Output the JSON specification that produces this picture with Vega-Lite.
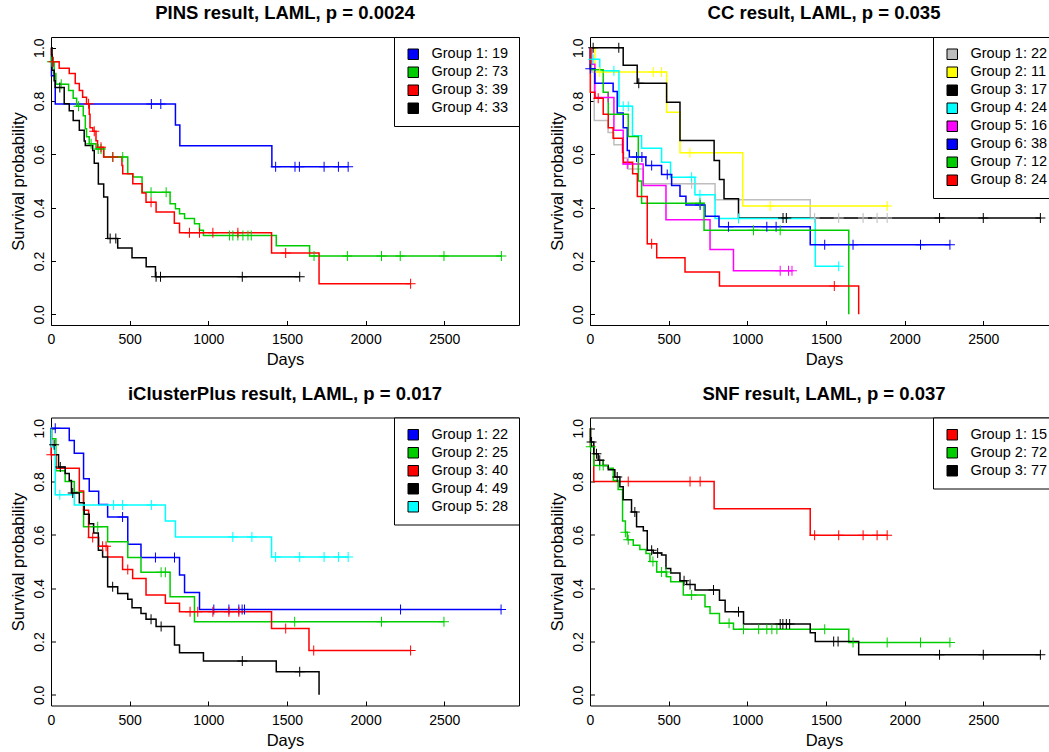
{
  "$schema": "https://vega.github.io/schema/vega-lite/v6.json",
  "padding": {"left": 9, "top": 3, "right": 0, "bottom": 0},
  "background": "white",
  "config": {
    "font": "Liberation Sans",
    "view": {"stroke": "black", "strokeWidth": 1},
    "axis": {"domain": false, "grid": false, "tickColor": "black", "tickWidth": 1, "tickSize": -4.5, "labelFont": "Liberation Sans", "labelFontSize": 14, "labelColor": "black", "titleFont": "Liberation Sans", "titleFontSize": 16.5, "titleFontWeight": "normal", "titleColor": "black", "labelFlush": false, "labelOverlap": false},
    "axisX": {"labelPadding": 12.2, "titlePadding": 5},
    "axisY": {"labelPadding": 12.5, "labelAngle": -90, "labelAlign": "center", "labelBaseline": "alphabetic", "titlePadding": 6},
    "title": {"font": "Liberation Sans", "fontSize": 18.5, "fontWeight": "bold", "color": "black", "anchor": "middle", "offset": 14},
    "legend": {"orient": "top-right", "offset": 0, "padding": 10, "symbolOffset": 2, "strokeColor": "black", "strokeWidth": 1, "fillColor": "white", "cornerRadius": 0, "symbolType": "square", "symbolSize": 110, "symbolStrokeColor": "black", "symbolStrokeWidth": 1, "labelFont": "Liberation Sans", "labelFontSize": 14.5, "labelColor": "black", "labelOffset": 11, "rowPadding": 2}
  },
  "data": {"values": [
    {"p":"A","g":"Group 1: 19","t":0,"s":1,"c":0},{"p":"A","g":"Group 1: 19","t":3,"s":0.895,"c":0},{"p":"A","g":"Group 1: 19","t":27,"s":0.789,"c":0},{"p":"A","g":"Group 1: 19","t":638,"s":0.789,"c":1},{"p":"A","g":"Group 1: 19","t":698,"s":0.789,"c":1},{"p":"A","g":"Group 1: 19","t":791,"s":0.71,"c":0},{"p":"A","g":"Group 1: 19","t":819,"s":0.632,"c":0},{"p":"A","g":"Group 1: 19","t":1404,"s":0.553,"c":0},{"p":"A","g":"Group 1: 19","t":1428,"s":0.553,"c":1},{"p":"A","g":"Group 1: 19","t":1551,"s":0.553,"c":1},{"p":"A","g":"Group 1: 19","t":1579,"s":0.553,"c":1},{"p":"A","g":"Group 1: 19","t":1736,"s":0.553,"c":1},{"p":"A","g":"Group 1: 19","t":1827,"s":0.553,"c":1},{"p":"A","g":"Group 1: 19","t":1889,"s":0.553,"c":1},
    {"p":"A","g":"Group 2: 73","t":0,"s":1,"c":0},{"p":"A","g":"Group 2: 73","t":3,"s":0.947,"c":0},{"p":"A","g":"Group 2: 73","t":5,"s":0.947,"c":1},{"p":"A","g":"Group 2: 73","t":20,"s":0.903,"c":0},{"p":"A","g":"Group 2: 73","t":31,"s":0.863,"c":0},{"p":"A","g":"Group 2: 73","t":65,"s":0.863,"c":1},{"p":"A","g":"Group 2: 73","t":112,"s":0.839,"c":0},{"p":"A","g":"Group 2: 73","t":141,"s":0.81,"c":0},{"p":"A","g":"Group 2: 73","t":163,"s":0.78,"c":0},{"p":"A","g":"Group 2: 73","t":175,"s":0.78,"c":1},{"p":"A","g":"Group 2: 73","t":205,"s":0.745,"c":0},{"p":"A","g":"Group 2: 73","t":218,"s":0.696,"c":0},{"p":"A","g":"Group 2: 73","t":226,"s":0.666,"c":0},{"p":"A","g":"Group 2: 73","t":243,"s":0.64,"c":0},{"p":"A","g":"Group 2: 73","t":255,"s":0.64,"c":1},{"p":"A","g":"Group 2: 73","t":286,"s":0.62,"c":0},{"p":"A","g":"Group 2: 73","t":300,"s":0.62,"c":1},{"p":"A","g":"Group 2: 73","t":318,"s":0.62,"c":1},{"p":"A","g":"Group 2: 73","t":335,"s":0.59,"c":0},{"p":"A","g":"Group 2: 73","t":393,"s":0.59,"c":1},{"p":"A","g":"Group 2: 73","t":456,"s":0.59,"c":1},{"p":"A","g":"Group 2: 73","t":488,"s":0.527,"c":0},{"p":"A","g":"Group 2: 73","t":520,"s":0.515,"c":0},{"p":"A","g":"Group 2: 73","t":579,"s":0.458,"c":0},{"p":"A","g":"Group 2: 73","t":636,"s":0.458,"c":1},{"p":"A","g":"Group 2: 73","t":732,"s":0.458,"c":1},{"p":"A","g":"Group 2: 73","t":757,"s":0.415,"c":0},{"p":"A","g":"Group 2: 73","t":791,"s":0.396,"c":0},{"p":"A","g":"Group 2: 73","t":817,"s":0.377,"c":0},{"p":"A","g":"Group 2: 73","t":849,"s":0.359,"c":0},{"p":"A","g":"Group 2: 73","t":912,"s":0.34,"c":0},{"p":"A","g":"Group 2: 73","t":944,"s":0.315,"c":0},{"p":"A","g":"Group 2: 73","t":969,"s":0.296,"c":0},{"p":"A","g":"Group 2: 73","t":1135,"s":0.296,"c":1},{"p":"A","g":"Group 2: 73","t":1156,"s":0.296,"c":1},{"p":"A","g":"Group 2: 73","t":1188,"s":0.296,"c":1},{"p":"A","g":"Group 2: 73","t":1220,"s":0.296,"c":1},{"p":"A","g":"Group 2: 73","t":1252,"s":0.296,"c":1},{"p":"A","g":"Group 2: 73","t":1273,"s":0.296,"c":1},{"p":"A","g":"Group 2: 73","t":1432,"s":0.257,"c":0},{"p":"A","g":"Group 2: 73","t":1644,"s":0.219,"c":0},{"p":"A","g":"Group 2: 73","t":1672,"s":0.219,"c":1},{"p":"A","g":"Group 2: 73","t":1884,"s":0.219,"c":1},{"p":"A","g":"Group 2: 73","t":2101,"s":0.219,"c":1},{"p":"A","g":"Group 2: 73","t":2220,"s":0.219,"c":1},{"p":"A","g":"Group 2: 73","t":2498,"s":0.219,"c":1},{"p":"A","g":"Group 2: 73","t":2863,"s":0.219,"c":1},
    {"p":"A","g":"Group 3: 39","t":0,"s":1,"c":0},{"p":"A","g":"Group 3: 39","t":3,"s":0.974,"c":0},{"p":"A","g":"Group 3: 39","t":8,"s":0.947,"c":0},{"p":"A","g":"Group 3: 39","t":15,"s":0.947,"c":1},{"p":"A","g":"Group 3: 39","t":52,"s":0.923,"c":0},{"p":"A","g":"Group 3: 39","t":116,"s":0.903,"c":0},{"p":"A","g":"Group 3: 39","t":154,"s":0.866,"c":0},{"p":"A","g":"Group 3: 39","t":180,"s":0.839,"c":0},{"p":"A","g":"Group 3: 39","t":201,"s":0.814,"c":0},{"p":"A","g":"Group 3: 39","t":226,"s":0.79,"c":0},{"p":"A","g":"Group 3: 39","t":239,"s":0.79,"c":1},{"p":"A","g":"Group 3: 39","t":243,"s":0.75,"c":0},{"p":"A","g":"Group 3: 39","t":248,"s":0.7,"c":0},{"p":"A","g":"Group 3: 39","t":266,"s":0.687,"c":0},{"p":"A","g":"Group 3: 39","t":275,"s":0.687,"c":1},{"p":"A","g":"Group 3: 39","t":286,"s":0.651,"c":0},{"p":"A","g":"Group 3: 39","t":296,"s":0.627,"c":0},{"p":"A","g":"Group 3: 39","t":318,"s":0.627,"c":1},{"p":"A","g":"Group 3: 39","t":335,"s":0.59,"c":0},{"p":"A","g":"Group 3: 39","t":393,"s":0.59,"c":1},{"p":"A","g":"Group 3: 39","t":451,"s":0.558,"c":0},{"p":"A","g":"Group 3: 39","t":456,"s":0.527,"c":0},{"p":"A","g":"Group 3: 39","t":520,"s":0.49,"c":0},{"p":"A","g":"Group 3: 39","t":579,"s":0.455,"c":0},{"p":"A","g":"Group 3: 39","t":604,"s":0.42,"c":0},{"p":"A","g":"Group 3: 39","t":636,"s":0.42,"c":1},{"p":"A","g":"Group 3: 39","t":668,"s":0.384,"c":0},{"p":"A","g":"Group 3: 39","t":784,"s":0.342,"c":0},{"p":"A","g":"Group 3: 39","t":817,"s":0.306,"c":0},{"p":"A","g":"Group 3: 39","t":880,"s":0.306,"c":1},{"p":"A","g":"Group 3: 39","t":944,"s":0.306,"c":1},{"p":"A","g":"Group 3: 39","t":1029,"s":0.306,"c":1},{"p":"A","g":"Group 3: 39","t":1188,"s":0.306,"c":1},{"p":"A","g":"Group 3: 39","t":1402,"s":0.23,"c":0},{"p":"A","g":"Group 3: 39","t":1492,"s":0.23,"c":1},{"p":"A","g":"Group 3: 39","t":1704,"s":0.115,"c":0},{"p":"A","g":"Group 3: 39","t":2286,"s":0.115,"c":1},
    {"p":"A","g":"Group 4: 33","t":0,"s":1,"c":0},{"p":"A","g":"Group 4: 33","t":6,"s":0.915,"c":0},{"p":"A","g":"Group 4: 33","t":20,"s":0.876,"c":0},{"p":"A","g":"Group 4: 33","t":27,"s":0.851,"c":0},{"p":"A","g":"Group 4: 33","t":56,"s":0.851,"c":1},{"p":"A","g":"Group 4: 33","t":84,"s":0.79,"c":0},{"p":"A","g":"Group 4: 33","t":116,"s":0.763,"c":0},{"p":"A","g":"Group 4: 33","t":141,"s":0.727,"c":0},{"p":"A","g":"Group 4: 33","t":180,"s":0.69,"c":0},{"p":"A","g":"Group 4: 33","t":211,"s":0.65,"c":0},{"p":"A","g":"Group 4: 33","t":218,"s":0.633,"c":0},{"p":"A","g":"Group 4: 33","t":265,"s":0.614,"c":0},{"p":"A","g":"Group 4: 33","t":275,"s":0.567,"c":0},{"p":"A","g":"Group 4: 33","t":301,"s":0.489,"c":0},{"p":"A","g":"Group 4: 33","t":335,"s":0.44,"c":0},{"p":"A","g":"Group 4: 33","t":360,"s":0.284,"c":0},{"p":"A","g":"Group 4: 33","t":376,"s":0.284,"c":1},{"p":"A","g":"Group 4: 33","t":412,"s":0.284,"c":1},{"p":"A","g":"Group 4: 33","t":424,"s":0.249,"c":0},{"p":"A","g":"Group 4: 33","t":515,"s":0.212,"c":0},{"p":"A","g":"Group 4: 33","t":605,"s":0.178,"c":0},{"p":"A","g":"Group 4: 33","t":664,"s":0.141,"c":0},{"p":"A","g":"Group 4: 33","t":668,"s":0.141,"c":1},{"p":"A","g":"Group 4: 33","t":696,"s":0.141,"c":1},{"p":"A","g":"Group 4: 33","t":1216,"s":0.141,"c":1},{"p":"A","g":"Group 4: 33","t":1581,"s":0.141,"c":1},

    {"p":"B","g":"Group 1: 22","t":0,"s":1,"c":0},{"p":"B","g":"Group 1: 22","t":10,"s":0.909,"c":0},{"p":"B","g":"Group 1: 22","t":27,"s":0.727,"c":0},{"p":"B","g":"Group 1: 22","t":115,"s":0.682,"c":0},{"p":"B","g":"Group 1: 22","t":152,"s":0.636,"c":0},{"p":"B","g":"Group 1: 22","t":211,"s":0.586,"c":0},{"p":"B","g":"Group 1: 22","t":243,"s":0.545,"c":0},{"p":"B","g":"Group 1: 22","t":338,"s":0.49,"c":0},{"p":"B","g":"Group 1: 22","t":646,"s":0.49,"c":1},{"p":"B","g":"Group 1: 22","t":795,"s":0.43,"c":0},{"p":"B","g":"Group 1: 22","t":1400,"s":0.361,"c":0},{"p":"B","g":"Group 1: 22","t":1428,"s":0.361,"c":1},{"p":"B","g":"Group 1: 22","t":1581,"s":0.361,"c":1},{"p":"B","g":"Group 1: 22","t":1736,"s":0.361,"c":1},{"p":"B","g":"Group 1: 22","t":1825,"s":0.361,"c":1},{"p":"B","g":"Group 1: 22","t":1889,"s":0.361,"c":1},
    {"p":"B","g":"Group 2: 11","t":0,"s":1,"c":0},{"p":"B","g":"Group 2: 11","t":31,"s":0.909,"c":0},{"p":"B","g":"Group 2: 11","t":62,"s":0.909,"c":1},{"p":"B","g":"Group 2: 11","t":402,"s":0.909,"c":1},{"p":"B","g":"Group 2: 11","t":455,"s":0.909,"c":1},{"p":"B","g":"Group 2: 11","t":487,"s":0.758,"c":0},{"p":"B","g":"Group 2: 11","t":572,"s":0.606,"c":0},{"p":"B","g":"Group 2: 11","t":635,"s":0.606,"c":1},{"p":"B","g":"Group 2: 11","t":971,"s":0.406,"c":0},{"p":"B","g":"Group 2: 11","t":1145,"s":0.406,"c":1},{"p":"B","g":"Group 2: 11","t":1889,"s":0.406,"c":1},
    {"p":"B","g":"Group 3: 17","t":0,"s":1,"c":0},{"p":"B","g":"Group 3: 17","t":20,"s":1,"c":1},{"p":"B","g":"Group 3: 17","t":183,"s":1,"c":1},{"p":"B","g":"Group 3: 17","t":211,"s":0.934,"c":0},{"p":"B","g":"Group 3: 17","t":300,"s":0.867,"c":0},{"p":"B","g":"Group 3: 17","t":310,"s":0.867,"c":1},{"p":"B","g":"Group 3: 17","t":487,"s":0.795,"c":0},{"p":"B","g":"Group 3: 17","t":572,"s":0.652,"c":0},{"p":"B","g":"Group 3: 17","t":789,"s":0.577,"c":0},{"p":"B","g":"Group 3: 17","t":823,"s":0.506,"c":0},{"p":"B","g":"Group 3: 17","t":852,"s":0.433,"c":0},{"p":"B","g":"Group 3: 17","t":944,"s":0.361,"c":0},{"p":"B","g":"Group 3: 17","t":1227,"s":0.361,"c":1},{"p":"B","g":"Group 3: 17","t":1248,"s":0.361,"c":1},{"p":"B","g":"Group 3: 17","t":2222,"s":0.361,"c":1},{"p":"B","g":"Group 3: 17","t":2500,"s":0.361,"c":1},{"p":"B","g":"Group 3: 17","t":2863,"s":0.361,"c":1},
    {"p":"B","g":"Group 4: 24","t":0,"s":1,"c":0},{"p":"B","g":"Group 4: 24","t":5,"s":0.957,"c":0},{"p":"B","g":"Group 4: 24","t":20,"s":0.957,"c":1},{"p":"B","g":"Group 4: 24","t":62,"s":0.913,"c":0},{"p":"B","g":"Group 4: 24","t":152,"s":0.913,"c":1},{"p":"B","g":"Group 4: 24","t":184,"s":0.78,"c":0},{"p":"B","g":"Group 4: 24","t":211,"s":0.78,"c":1},{"p":"B","g":"Group 4: 24","t":243,"s":0.78,"c":1},{"p":"B","g":"Group 4: 24","t":270,"s":0.67,"c":0},{"p":"B","g":"Group 4: 24","t":328,"s":0.623,"c":0},{"p":"B","g":"Group 4: 24","t":455,"s":0.57,"c":0},{"p":"B","g":"Group 4: 24","t":512,"s":0.514,"c":0},{"p":"B","g":"Group 4: 24","t":646,"s":0.514,"c":1},{"p":"B","g":"Group 4: 24","t":667,"s":0.448,"c":0},{"p":"B","g":"Group 4: 24","t":699,"s":0.448,"c":1},{"p":"B","g":"Group 4: 24","t":795,"s":0.359,"c":0},{"p":"B","g":"Group 4: 24","t":944,"s":0.359,"c":1},{"p":"B","g":"Group 4: 24","t":1432,"s":0.18,"c":0},{"p":"B","g":"Group 4: 24","t":1581,"s":0.18,"c":1},
    {"p":"B","g":"Group 5: 16","t":0,"s":1,"c":0},{"p":"B","g":"Group 5: 16","t":10,"s":0.938,"c":0},{"p":"B","g":"Group 5: 16","t":31,"s":0.813,"c":0},{"p":"B","g":"Group 5: 16","t":115,"s":0.813,"c":1},{"p":"B","g":"Group 5: 16","t":152,"s":0.69,"c":0},{"p":"B","g":"Group 5: 16","t":211,"s":0.564,"c":0},{"p":"B","g":"Group 5: 16","t":237,"s":0.564,"c":1},{"p":"B","g":"Group 5: 16","t":338,"s":0.483,"c":0},{"p":"B","g":"Group 5: 16","t":483,"s":0.355,"c":0},{"p":"B","g":"Group 5: 16","t":763,"s":0.243,"c":0},{"p":"B","g":"Group 5: 16","t":912,"s":0.163,"c":0},{"p":"B","g":"Group 5: 16","t":1209,"s":0.163,"c":1},{"p":"B","g":"Group 5: 16","t":1262,"s":0.163,"c":1},{"p":"B","g":"Group 5: 16","t":1284,"s":0.163,"c":1},
    {"p":"B","g":"Group 6: 38","t":0,"s":1,"c":0},{"p":"B","g":"Group 6: 38","t":1,"s":0.921,"c":0},{"p":"B","g":"Group 6: 38","t":2,"s":0.921,"c":1},{"p":"B","g":"Group 6: 38","t":31,"s":0.867,"c":0},{"p":"B","g":"Group 6: 38","t":147,"s":0.836,"c":0},{"p":"B","g":"Group 6: 38","t":173,"s":0.755,"c":0},{"p":"B","g":"Group 6: 38","t":211,"s":0.7,"c":0},{"p":"B","g":"Group 6: 38","t":237,"s":0.614,"c":0},{"p":"B","g":"Group 6: 38","t":250,"s":0.59,"c":0},{"p":"B","g":"Group 6: 38","t":296,"s":0.59,"c":1},{"p":"B","g":"Group 6: 38","t":330,"s":0.59,"c":1},{"p":"B","g":"Group 6: 38","t":355,"s":0.558,"c":0},{"p":"B","g":"Group 6: 38","t":392,"s":0.558,"c":1},{"p":"B","g":"Group 6: 38","t":455,"s":0.524,"c":0},{"p":"B","g":"Group 6: 38","t":491,"s":0.524,"c":1},{"p":"B","g":"Group 6: 38","t":519,"s":0.483,"c":0},{"p":"B","g":"Group 6: 38","t":572,"s":0.443,"c":0},{"p":"B","g":"Group 6: 38","t":610,"s":0.41,"c":0},{"p":"B","g":"Group 6: 38","t":700,"s":0.41,"c":1},{"p":"B","g":"Group 6: 38","t":731,"s":0.368,"c":0},{"p":"B","g":"Group 6: 38","t":820,"s":0.328,"c":0},{"p":"B","g":"Group 6: 38","t":880,"s":0.328,"c":1},{"p":"B","g":"Group 6: 38","t":1124,"s":0.328,"c":1},{"p":"B","g":"Group 6: 38","t":1183,"s":0.328,"c":1},{"p":"B","g":"Group 6: 38","t":1400,"s":0.261,"c":0},{"p":"B","g":"Group 6: 38","t":1492,"s":0.261,"c":1},{"p":"B","g":"Group 6: 38","t":1672,"s":0.261,"c":1},{"p":"B","g":"Group 6: 38","t":2101,"s":0.261,"c":1},{"p":"B","g":"Group 6: 38","t":2288,"s":0.261,"c":1},
    {"p":"B","g":"Group 7: 12","t":0,"s":1,"c":0},{"p":"B","g":"Group 7: 12","t":5,"s":0.917,"c":0},{"p":"B","g":"Group 7: 12","t":84,"s":0.833,"c":0},{"p":"B","g":"Group 7: 12","t":116,"s":0.75,"c":0},{"p":"B","g":"Group 7: 12","t":243,"s":0.667,"c":0},{"p":"B","g":"Group 7: 12","t":307,"s":0.5,"c":0},{"p":"B","g":"Group 7: 12","t":328,"s":0.417,"c":0},{"p":"B","g":"Group 7: 12","t":699,"s":0.417,"c":1},{"p":"B","g":"Group 7: 12","t":725,"s":0.315,"c":0},{"p":"B","g":"Group 7: 12","t":1039,"s":0.315,"c":1},{"p":"B","g":"Group 7: 12","t":1209,"s":0.315,"c":1},{"p":"B","g":"Group 7: 12","t":1645,"s":0,"c":0},
    {"p":"B","g":"Group 8: 24","t":0,"s":1,"c":0},{"p":"B","g":"Group 8: 24","t":2,"s":0.833,"c":0},{"p":"B","g":"Group 8: 24","t":31,"s":0.81,"c":0},{"p":"B","g":"Group 8: 24","t":52,"s":0.81,"c":1},{"p":"B","g":"Group 8: 24","t":84,"s":0.75,"c":0},{"p":"B","g":"Group 8: 24","t":116,"s":0.7,"c":0},{"p":"B","g":"Group 8: 24","t":147,"s":0.66,"c":0},{"p":"B","g":"Group 8: 24","t":207,"s":0.608,"c":0},{"p":"B","g":"Group 8: 24","t":212,"s":0.57,"c":0},{"p":"B","g":"Group 8: 24","t":271,"s":0.527,"c":0},{"p":"B","g":"Group 8: 24","t":301,"s":0.442,"c":0},{"p":"B","g":"Group 8: 24","t":364,"s":0.265,"c":0},{"p":"B","g":"Group 8: 24","t":392,"s":0.265,"c":1},{"p":"B","g":"Group 8: 24","t":424,"s":0.212,"c":0},{"p":"B","g":"Group 8: 24","t":604,"s":0.159,"c":0},{"p":"B","g":"Group 8: 24","t":823,"s":0.106,"c":0},{"p":"B","g":"Group 8: 24","t":1553,"s":0.106,"c":1},{"p":"B","g":"Group 8: 24","t":1708,"s":0,"c":0},

    {"p":"C","g":"Group 1: 22","t":0,"s":1,"c":0},{"p":"C","g":"Group 1: 22","t":27,"s":1,"c":1},{"p":"C","g":"Group 1: 22","t":116,"s":0.954,"c":0},{"p":"C","g":"Group 1: 22","t":148,"s":0.906,"c":0},{"p":"C","g":"Group 1: 22","t":207,"s":0.81,"c":0},{"p":"C","g":"Group 1: 22","t":243,"s":0.763,"c":0},{"p":"C","g":"Group 1: 22","t":303,"s":0.714,"c":0},{"p":"C","g":"Group 1: 22","t":360,"s":0.667,"c":0},{"p":"C","g":"Group 1: 22","t":455,"s":0.667,"c":1},{"p":"C","g":"Group 1: 22","t":488,"s":0.565,"c":0},{"p":"C","g":"Group 1: 22","t":572,"s":0.515,"c":0},{"p":"C","g":"Group 1: 22","t":664,"s":0.515,"c":1},{"p":"C","g":"Group 1: 22","t":785,"s":0.515,"c":1},{"p":"C","g":"Group 1: 22","t":817,"s":0.449,"c":0},{"p":"C","g":"Group 1: 22","t":849,"s":0.384,"c":0},{"p":"C","g":"Group 1: 22","t":944,"s":0.32,"c":0},{"p":"C","g":"Group 1: 22","t":1035,"s":0.32,"c":1},{"p":"C","g":"Group 1: 22","t":1131,"s":0.32,"c":1},{"p":"C","g":"Group 1: 22","t":1194,"s":0.32,"c":1},{"p":"C","g":"Group 1: 22","t":1215,"s":0.32,"c":1},{"p":"C","g":"Group 1: 22","t":1230,"s":0.32,"c":1},{"p":"C","g":"Group 1: 22","t":2222,"s":0.32,"c":1},{"p":"C","g":"Group 1: 22","t":2861,"s":0.32,"c":1},
    {"p":"C","g":"Group 2: 25","t":0,"s":1,"c":0},{"p":"C","g":"Group 2: 25","t":3,"s":0.96,"c":0},{"p":"C","g":"Group 2: 25","t":31,"s":0.84,"c":0},{"p":"C","g":"Group 2: 25","t":90,"s":0.8,"c":0},{"p":"C","g":"Group 2: 25","t":148,"s":0.76,"c":0},{"p":"C","g":"Group 2: 25","t":207,"s":0.63,"c":0},{"p":"C","g":"Group 2: 25","t":297,"s":0.63,"c":1},{"p":"C","g":"Group 2: 25","t":360,"s":0.574,"c":0},{"p":"C","g":"Group 2: 25","t":488,"s":0.515,"c":0},{"p":"C","g":"Group 2: 25","t":572,"s":0.46,"c":0},{"p":"C","g":"Group 2: 25","t":700,"s":0.46,"c":1},{"p":"C","g":"Group 2: 25","t":727,"s":0.46,"c":1},{"p":"C","g":"Group 2: 25","t":757,"s":0.368,"c":0},{"p":"C","g":"Group 2: 25","t":912,"s":0.274,"c":0},{"p":"C","g":"Group 2: 25","t":1549,"s":0.274,"c":1},{"p":"C","g":"Group 2: 25","t":2101,"s":0.274,"c":1},{"p":"C","g":"Group 2: 25","t":2498,"s":0.274,"c":1},
    {"p":"C","g":"Group 3: 40","t":0,"s":1,"c":0},{"p":"C","g":"Group 3: 40","t":1,"s":0.9,"c":0},{"p":"C","g":"Group 3: 40","t":2,"s":0.9,"c":1},{"p":"C","g":"Group 3: 40","t":31,"s":0.85,"c":0},{"p":"C","g":"Group 3: 40","t":180,"s":0.764,"c":0},{"p":"C","g":"Group 3: 40","t":207,"s":0.692,"c":0},{"p":"C","g":"Group 3: 40","t":239,"s":0.59,"c":0},{"p":"C","g":"Group 3: 40","t":265,"s":0.59,"c":1},{"p":"C","g":"Group 3: 40","t":303,"s":0.557,"c":0},{"p":"C","g":"Group 3: 40","t":328,"s":0.557,"c":1},{"p":"C","g":"Group 3: 40","t":350,"s":0.557,"c":1},{"p":"C","g":"Group 3: 40","t":360,"s":0.517,"c":0},{"p":"C","g":"Group 3: 40","t":455,"s":0.47,"c":0},{"p":"C","g":"Group 3: 40","t":488,"s":0.47,"c":1},{"p":"C","g":"Group 3: 40","t":519,"s":0.436,"c":0},{"p":"C","g":"Group 3: 40","t":604,"s":0.374,"c":0},{"p":"C","g":"Group 3: 40","t":727,"s":0.343,"c":0},{"p":"C","g":"Group 3: 40","t":817,"s":0.312,"c":0},{"p":"C","g":"Group 3: 40","t":884,"s":0.312,"c":1},{"p":"C","g":"Group 3: 40","t":933,"s":0.312,"c":1},{"p":"C","g":"Group 3: 40","t":1029,"s":0.312,"c":1},{"p":"C","g":"Group 3: 40","t":1131,"s":0.312,"c":1},{"p":"C","g":"Group 3: 40","t":1194,"s":0.312,"c":1},{"p":"C","g":"Group 3: 40","t":1402,"s":0.249,"c":0},{"p":"C","g":"Group 3: 40","t":1492,"s":0.249,"c":1},{"p":"C","g":"Group 3: 40","t":1640,"s":0.166,"c":0},{"p":"C","g":"Group 3: 40","t":1670,"s":0.166,"c":1},{"p":"C","g":"Group 3: 40","t":2286,"s":0.166,"c":1},
    {"p":"C","g":"Group 4: 49","t":0,"s":1,"c":0},{"p":"C","g":"Group 4: 49","t":3,"s":0.938,"c":0},{"p":"C","g":"Group 4: 49","t":20,"s":0.938,"c":1},{"p":"C","g":"Group 4: 49","t":27,"s":0.9,"c":0},{"p":"C","g":"Group 4: 49","t":48,"s":0.854,"c":0},{"p":"C","g":"Group 4: 49","t":59,"s":0.854,"c":1},{"p":"C","g":"Group 4: 49","t":90,"s":0.83,"c":0},{"p":"C","g":"Group 4: 49","t":116,"s":0.804,"c":0},{"p":"C","g":"Group 4: 49","t":130,"s":0.757,"c":0},{"p":"C","g":"Group 4: 49","t":138,"s":0.757,"c":1},{"p":"C","g":"Group 4: 49","t":180,"s":0.72,"c":0},{"p":"C","g":"Group 4: 49","t":211,"s":0.677,"c":0},{"p":"C","g":"Group 4: 49","t":243,"s":0.642,"c":0},{"p":"C","g":"Group 4: 49","t":271,"s":0.607,"c":0},{"p":"C","g":"Group 4: 49","t":301,"s":0.542,"c":0},{"p":"C","g":"Group 4: 49","t":328,"s":0.517,"c":0},{"p":"C","g":"Group 4: 49","t":360,"s":0.405,"c":0},{"p":"C","g":"Group 4: 49","t":392,"s":0.405,"c":1},{"p":"C","g":"Group 4: 49","t":424,"s":0.38,"c":0},{"p":"C","g":"Group 4: 49","t":488,"s":0.358,"c":0},{"p":"C","g":"Group 4: 49","t":515,"s":0.327,"c":0},{"p":"C","g":"Group 4: 49","t":572,"s":0.305,"c":0},{"p":"C","g":"Group 4: 49","t":604,"s":0.283,"c":0},{"p":"C","g":"Group 4: 49","t":636,"s":0.283,"c":1},{"p":"C","g":"Group 4: 49","t":668,"s":0.256,"c":0},{"p":"C","g":"Group 4: 49","t":700,"s":0.256,"c":1},{"p":"C","g":"Group 4: 49","t":785,"s":0.187,"c":0},{"p":"C","g":"Group 4: 49","t":817,"s":0.158,"c":0},{"p":"C","g":"Group 4: 49","t":969,"s":0.127,"c":0},{"p":"C","g":"Group 4: 49","t":1216,"s":0.127,"c":1},{"p":"C","g":"Group 4: 49","t":1432,"s":0.087,"c":0},{"p":"C","g":"Group 4: 49","t":1581,"s":0.087,"c":1},{"p":"C","g":"Group 4: 49","t":1704,"s":0,"c":0},
    {"p":"C","g":"Group 5: 28","t":0,"s":1,"c":0},{"p":"C","g":"Group 5: 28","t":3,"s":0.93,"c":0},{"p":"C","g":"Group 5: 28","t":27,"s":0.75,"c":0},{"p":"C","g":"Group 5: 28","t":56,"s":0.75,"c":1},{"p":"C","g":"Group 5: 28","t":148,"s":0.712,"c":0},{"p":"C","g":"Group 5: 28","t":398,"s":0.712,"c":1},{"p":"C","g":"Group 5: 28","t":455,"s":0.712,"c":1},{"p":"C","g":"Group 5: 28","t":638,"s":0.712,"c":1},{"p":"C","g":"Group 5: 28","t":727,"s":0.652,"c":0},{"p":"C","g":"Group 5: 28","t":791,"s":0.592,"c":0},{"p":"C","g":"Group 5: 28","t":1156,"s":0.592,"c":1},{"p":"C","g":"Group 5: 28","t":1277,"s":0.592,"c":1},{"p":"C","g":"Group 5: 28","t":1402,"s":0.517,"c":0},{"p":"C","g":"Group 5: 28","t":1428,"s":0.517,"c":1},{"p":"C","g":"Group 5: 28","t":1581,"s":0.517,"c":1},{"p":"C","g":"Group 5: 28","t":1736,"s":0.517,"c":1},{"p":"C","g":"Group 5: 28","t":1827,"s":0.517,"c":1},{"p":"C","g":"Group 5: 28","t":1889,"s":0.517,"c":1},

    {"p":"D","g":"Group 1: 15","t":0,"s":1,"c":0},{"p":"D","g":"Group 1: 15","t":3,"s":0.933,"c":0},{"p":"D","g":"Group 1: 15","t":24,"s":0.8,"c":0},{"p":"D","g":"Group 1: 15","t":243,"s":0.8,"c":1},{"p":"D","g":"Group 1: 15","t":636,"s":0.8,"c":1},{"p":"D","g":"Group 1: 15","t":700,"s":0.8,"c":1},{"p":"D","g":"Group 1: 15","t":789,"s":0.698,"c":0},{"p":"D","g":"Group 1: 15","t":1400,"s":0.598,"c":0},{"p":"D","g":"Group 1: 15","t":1428,"s":0.598,"c":1},{"p":"D","g":"Group 1: 15","t":1581,"s":0.598,"c":1},{"p":"D","g":"Group 1: 15","t":1736,"s":0.598,"c":1},{"p":"D","g":"Group 1: 15","t":1825,"s":0.598,"c":1},{"p":"D","g":"Group 1: 15","t":1889,"s":0.598,"c":1},
    {"p":"D","g":"Group 2: 72","t":0,"s":1,"c":0},{"p":"D","g":"Group 2: 72","t":3,"s":0.93,"c":0},{"p":"D","g":"Group 2: 72","t":5,"s":0.93,"c":1},{"p":"D","g":"Group 2: 72","t":24,"s":0.86,"c":0},{"p":"D","g":"Group 2: 72","t":62,"s":0.86,"c":1},{"p":"D","g":"Group 2: 72","t":84,"s":0.86,"c":1},{"p":"D","g":"Group 2: 72","t":116,"s":0.85,"c":0},{"p":"D","g":"Group 2: 72","t":148,"s":0.804,"c":0},{"p":"D","g":"Group 2: 72","t":179,"s":0.77,"c":0},{"p":"D","g":"Group 2: 72","t":207,"s":0.652,"c":0},{"p":"D","g":"Group 2: 72","t":225,"s":0.61,"c":1},{"p":"D","g":"Group 2: 72","t":237,"s":0.582,"c":0},{"p":"D","g":"Group 2: 72","t":243,"s":0.582,"c":1},{"p":"D","g":"Group 2: 72","t":275,"s":0.561,"c":0},{"p":"D","g":"Group 2: 72","t":317,"s":0.545,"c":0},{"p":"D","g":"Group 2: 72","t":356,"s":0.53,"c":0},{"p":"D","g":"Group 2: 72","t":381,"s":0.5,"c":0},{"p":"D","g":"Group 2: 72","t":400,"s":0.5,"c":1},{"p":"D","g":"Group 2: 72","t":424,"s":0.461,"c":0},{"p":"D","g":"Group 2: 72","t":455,"s":0.461,"c":1},{"p":"D","g":"Group 2: 72","t":483,"s":0.461,"c":1},{"p":"D","g":"Group 2: 72","t":487,"s":0.443,"c":0},{"p":"D","g":"Group 2: 72","t":513,"s":0.424,"c":0},{"p":"D","g":"Group 2: 72","t":593,"s":0.374,"c":0},{"p":"D","g":"Group 2: 72","t":646,"s":0.374,"c":1},{"p":"D","g":"Group 2: 72","t":731,"s":0.33,"c":0},{"p":"D","g":"Group 2: 72","t":763,"s":0.305,"c":0},{"p":"D","g":"Group 2: 72","t":823,"s":0.268,"c":0},{"p":"D","g":"Group 2: 72","t":884,"s":0.268,"c":1},{"p":"D","g":"Group 2: 72","t":912,"s":0.246,"c":0},{"p":"D","g":"Group 2: 72","t":976,"s":0.246,"c":1},{"p":"D","g":"Group 2: 72","t":1072,"s":0.246,"c":1},{"p":"D","g":"Group 2: 72","t":1124,"s":0.246,"c":1},{"p":"D","g":"Group 2: 72","t":1156,"s":0.246,"c":1},{"p":"D","g":"Group 2: 72","t":1188,"s":0.246,"c":1},{"p":"D","g":"Group 2: 72","t":1492,"s":0.246,"c":1},{"p":"D","g":"Group 2: 72","t":1645,"s":0.196,"c":0},{"p":"D","g":"Group 2: 72","t":1672,"s":0.196,"c":1},{"p":"D","g":"Group 2: 72","t":1889,"s":0.196,"c":1},{"p":"D","g":"Group 2: 72","t":2101,"s":0.196,"c":1},{"p":"D","g":"Group 2: 72","t":2288,"s":0.196,"c":1},
    {"p":"D","g":"Group 3: 77","t":0,"s":1,"c":0},{"p":"D","g":"Group 3: 77","t":3,"s":0.948,"c":0},{"p":"D","g":"Group 3: 77","t":10,"s":0.948,"c":1},{"p":"D","g":"Group 3: 77","t":24,"s":0.904,"c":0},{"p":"D","g":"Group 3: 77","t":41,"s":0.904,"c":1},{"p":"D","g":"Group 3: 77","t":52,"s":0.88,"c":0},{"p":"D","g":"Group 3: 77","t":62,"s":0.88,"c":1},{"p":"D","g":"Group 3: 77","t":84,"s":0.86,"c":0},{"p":"D","g":"Group 3: 77","t":116,"s":0.844,"c":0},{"p":"D","g":"Group 3: 77","t":158,"s":0.817,"c":0},{"p":"D","g":"Group 3: 77","t":173,"s":0.817,"c":1},{"p":"D","g":"Group 3: 77","t":190,"s":0.78,"c":0},{"p":"D","g":"Group 3: 77","t":211,"s":0.732,"c":0},{"p":"D","g":"Group 3: 77","t":264,"s":0.686,"c":0},{"p":"D","g":"Group 3: 77","t":285,"s":0.686,"c":1},{"p":"D","g":"Group 3: 77","t":296,"s":0.63,"c":0},{"p":"D","g":"Group 3: 77","t":339,"s":0.615,"c":0},{"p":"D","g":"Group 3: 77","t":364,"s":0.542,"c":0},{"p":"D","g":"Group 3: 77","t":392,"s":0.542,"c":1},{"p":"D","g":"Group 3: 77","t":402,"s":0.532,"c":0},{"p":"D","g":"Group 3: 77","t":430,"s":0.532,"c":1},{"p":"D","g":"Group 3: 77","t":455,"s":0.524,"c":0},{"p":"D","g":"Group 3: 77","t":483,"s":0.474,"c":0},{"p":"D","g":"Group 3: 77","t":513,"s":0.457,"c":0},{"p":"D","g":"Group 3: 77","t":572,"s":0.428,"c":0},{"p":"D","g":"Group 3: 77","t":598,"s":0.428,"c":1},{"p":"D","g":"Group 3: 77","t":614,"s":0.414,"c":0},{"p":"D","g":"Group 3: 77","t":636,"s":0.414,"c":1},{"p":"D","g":"Group 3: 77","t":668,"s":0.393,"c":0},{"p":"D","g":"Group 3: 77","t":785,"s":0.393,"c":1},{"p":"D","g":"Group 3: 77","t":823,"s":0.355,"c":0},{"p":"D","g":"Group 3: 77","t":859,"s":0.312,"c":0},{"p":"D","g":"Group 3: 77","t":944,"s":0.312,"c":1},{"p":"D","g":"Group 3: 77","t":976,"s":0.266,"c":0},{"p":"D","g":"Group 3: 77","t":1209,"s":0.266,"c":1},{"p":"D","g":"Group 3: 77","t":1226,"s":0.266,"c":1},{"p":"D","g":"Group 3: 77","t":1248,"s":0.266,"c":1},{"p":"D","g":"Group 3: 77","t":1269,"s":0.266,"c":1},{"p":"D","g":"Group 3: 77","t":1400,"s":0.233,"c":0},{"p":"D","g":"Group 3: 77","t":1432,"s":0.2,"c":0},{"p":"D","g":"Group 3: 77","t":1549,"s":0.2,"c":1},{"p":"D","g":"Group 3: 77","t":1577,"s":0.2,"c":1},{"p":"D","g":"Group 3: 77","t":1708,"s":0.15,"c":0},{"p":"D","g":"Group 3: 77","t":2222,"s":0.15,"c":1},{"p":"D","g":"Group 3: 77","t":2500,"s":0.15,"c":1},{"p":"D","g":"Group 3: 77","t":2863,"s":0.15,"c":1}
  ]},
  "columns": 2,
  "spacing": {"column": 28, "row": 14.5},
  "resolve": {"scale": {"color": "independent", "stroke": "independent"}},
  "concat": [
    {
      "title": "PINS result, LAML, p = 0.0024",
      "width": 468, "height": 288,
      "transform": [{"filter": "datum.p === 'A'"}],
      "encoding": {
        "x": {"field": "t", "type": "quantitative", "scale": {"domain": [0, 2975], "nice": false, "zero": false}, "axis": {"values": [0, 500, 1000, 1500, 2000, 2500], "format": "d", "title": "Days"}},
        "y": {"field": "s", "type": "quantitative", "scale": {"domain": [-0.04, 1.04], "nice": false, "zero": false}, "axis": {"values": [0, 0.2, 0.4, 0.6, 0.8, 1], "format": ".1f", "title": "Survival probability"}}
      },
      "layer": [
        {"mark": {"type": "line", "interpolate": "step-after", "strokeWidth": 1.5}, "encoding": {"stroke": {"field": "g", "type": "nominal", "scale": {"range": ["#0000FF", "#00CD00", "#FF0000", "#000000"]}, "legend": null}}},
        {"transform": [{"filter": "datum.c === 1"}], "mark": {"type": "point", "shape": "M-1,-0.1H-0.1V-1H0.1V-0.1H1V0.1H0.1V1H-0.1V0.1H-1Z", "filled": true, "size": 100, "opacity": 1}, "encoding": {"color": {"field": "g", "type": "nominal", "scale": {"domain": ["Group 1: 19", "Group 2: 73", "Group 3: 39", "Group 4: 33"], "range": ["#0000FF", "#00CD00", "#FF0000", "#000000"]}, "legend": {"title": null, "symbolType": "square"}}}}
      ]
    },
    {
      "title": "CC result, LAML, p = 0.035",
      "width": 468, "height": 288,
      "transform": [{"filter": "datum.p === 'B'"}],
      "encoding": {
        "x": {"field": "t", "type": "quantitative", "scale": {"domain": [0, 2975], "nice": false, "zero": false}, "axis": {"values": [0, 500, 1000, 1500, 2000, 2500], "format": "d", "title": "Days"}},
        "y": {"field": "s", "type": "quantitative", "scale": {"domain": [-0.04, 1.04], "nice": false, "zero": false}, "axis": {"values": [0, 0.2, 0.4, 0.6, 0.8, 1], "format": ".1f", "title": "Survival probability"}}
      },
      "layer": [
        {"mark": {"type": "line", "interpolate": "step-after", "strokeWidth": 1.5}, "encoding": {"stroke": {"field": "g", "type": "nominal", "scale": {"range": ["#BEBEBE", "#FFFF00", "#000000", "#00FFFF", "#FF00FF", "#0000FF", "#00CD00", "#FF0000"]}, "legend": null}}},
        {"transform": [{"filter": "datum.c === 1"}], "mark": {"type": "point", "shape": "M-1,-0.1H-0.1V-1H0.1V-0.1H1V0.1H0.1V1H-0.1V0.1H-1Z", "filled": true, "size": 100, "opacity": 1}, "encoding": {"color": {"field": "g", "type": "nominal", "scale": {"domain": ["Group 1: 22", "Group 2: 11", "Group 3: 17", "Group 4: 24", "Group 5: 16", "Group 6: 38", "Group 7: 12", "Group 8: 24"], "range": ["#BEBEBE", "#FFFF00", "#000000", "#00FFFF", "#FF00FF", "#0000FF", "#00CD00", "#FF0000"]}, "legend": {"title": null, "symbolType": "square"}}}}
      ]
    },
    {
      "title": "iClusterPlus result, LAML, p = 0.017",
      "width": 468, "height": 288,
      "transform": [{"filter": "datum.p === 'C'"}],
      "encoding": {
        "x": {"field": "t", "type": "quantitative", "scale": {"domain": [0, 2975], "nice": false, "zero": false}, "axis": {"values": [0, 500, 1000, 1500, 2000, 2500], "format": "d", "title": "Days"}},
        "y": {"field": "s", "type": "quantitative", "scale": {"domain": [-0.04, 1.04], "nice": false, "zero": false}, "axis": {"values": [0, 0.2, 0.4, 0.6, 0.8, 1], "format": ".1f", "title": "Survival probability"}}
      },
      "layer": [
        {"mark": {"type": "line", "interpolate": "step-after", "strokeWidth": 1.5}, "encoding": {"stroke": {"field": "g", "type": "nominal", "scale": {"range": ["#0000FF", "#00CD00", "#FF0000", "#000000", "#00FFFF"]}, "legend": null}}},
        {"transform": [{"filter": "datum.c === 1"}], "mark": {"type": "point", "shape": "M-1,-0.1H-0.1V-1H0.1V-0.1H1V0.1H0.1V1H-0.1V0.1H-1Z", "filled": true, "size": 100, "opacity": 1}, "encoding": {"color": {"field": "g", "type": "nominal", "scale": {"domain": ["Group 1: 22", "Group 2: 25", "Group 3: 40", "Group 4: 49", "Group 5: 28"], "range": ["#0000FF", "#00CD00", "#FF0000", "#000000", "#00FFFF"]}, "legend": {"title": null, "symbolType": "square"}}}}
      ]
    },
    {
      "title": "SNF result, LAML, p = 0.037",
      "width": 468, "height": 288,
      "transform": [{"filter": "datum.p === 'D'"}],
      "encoding": {
        "x": {"field": "t", "type": "quantitative", "scale": {"domain": [0, 2975], "nice": false, "zero": false}, "axis": {"values": [0, 500, 1000, 1500, 2000, 2500], "format": "d", "title": "Days"}},
        "y": {"field": "s", "type": "quantitative", "scale": {"domain": [-0.04, 1.04], "nice": false, "zero": false}, "axis": {"values": [0, 0.2, 0.4, 0.6, 0.8, 1], "format": ".1f", "title": "Survival probability"}}
      },
      "layer": [
        {"mark": {"type": "line", "interpolate": "step-after", "strokeWidth": 1.5}, "encoding": {"stroke": {"field": "g", "type": "nominal", "scale": {"range": ["#FF0000", "#00CD00", "#000000"]}, "legend": null}}},
        {"transform": [{"filter": "datum.c === 1"}], "mark": {"type": "point", "shape": "M-1,-0.1H-0.1V-1H0.1V-0.1H1V0.1H0.1V1H-0.1V0.1H-1Z", "filled": true, "size": 100, "opacity": 1}, "encoding": {"color": {"field": "g", "type": "nominal", "scale": {"domain": ["Group 1: 15", "Group 2: 72", "Group 3: 77"], "range": ["#FF0000", "#00CD00", "#000000"]}, "legend": {"title": null, "symbolType": "square"}}}}
      ]
    }
  ]
}
